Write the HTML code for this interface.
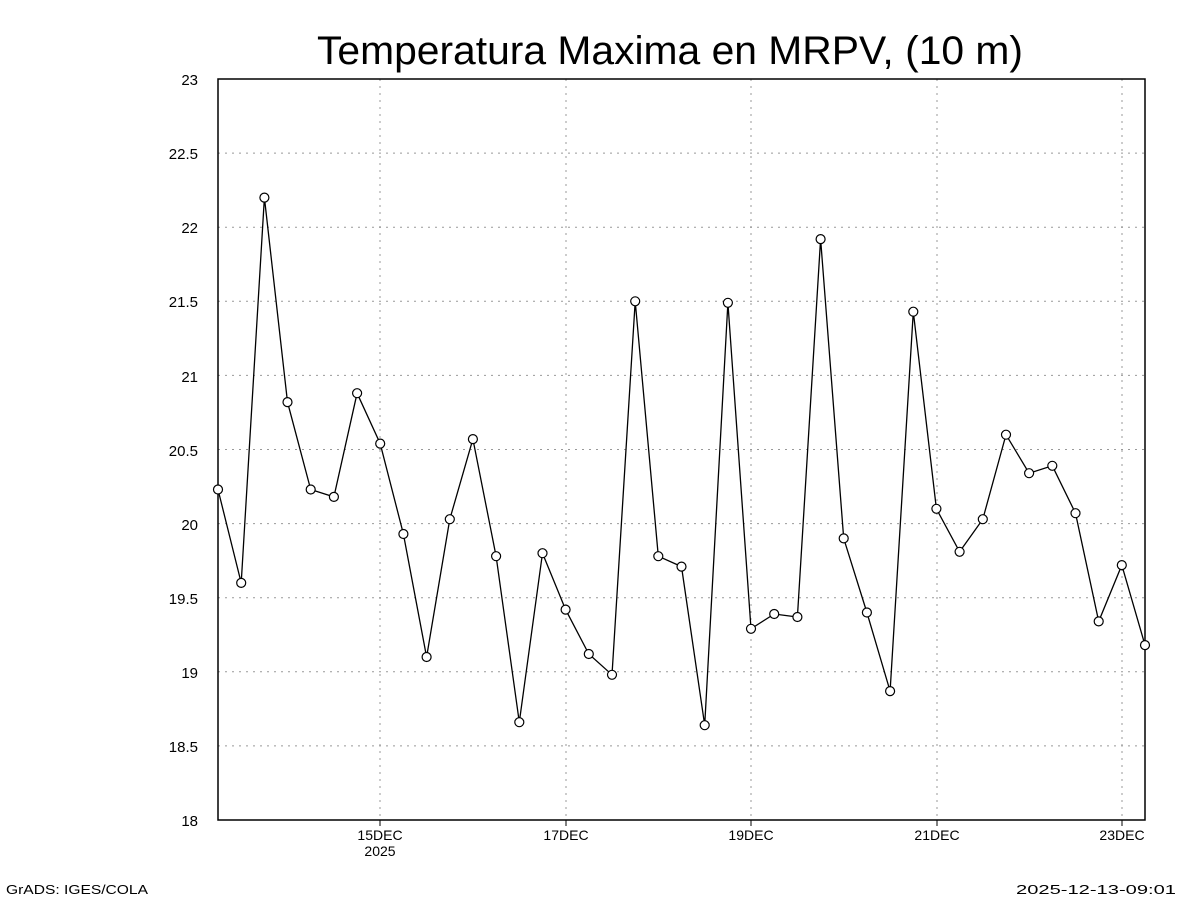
<!DOCTYPE html>
<html><head><meta charset="utf-8"><style>
html,body{margin:0;padding:0;background:#fff;}
svg{display:block;}
text{font-family:"Liberation Sans",sans-serif;fill:#000;}
</style></head><body>
<svg id="s" width="1200" height="900" xmlns="http://www.w3.org/2000/svg">
<rect width="1200" height="900" fill="#fff"/>
<text x="670" y="64" font-size="40" text-anchor="middle" textLength="706" lengthAdjust="spacingAndGlyphs" font-weight="300">Temperatura Maxima en MRPV,  (10 m)</text>
<g id="grid" stroke="#999" stroke-width="1" stroke-dasharray="2,5"></g>
<rect x="218" y="79" width="927" height="741" fill="none" stroke="#000" stroke-width="1.5"/>
<g font-size="15" text-anchor="end">
<text x="198" y="85">23</text><text x="198" y="159">22.5</text><text x="198" y="233">22</text>
<text x="198" y="307">21.5</text><text x="198" y="382">21</text><text x="198" y="456">20.5</text>
<text x="198" y="530">20</text><text x="198" y="604">19.5</text><text x="198" y="678">19</text>
<text x="198" y="752">18.5</text><text x="198" y="826">18</text>
</g>
<g font-size="14" text-anchor="middle">
<text x="380" y="840">15DEC</text><text x="380" y="856">2025</text>
<text x="566" y="840">17DEC</text><text x="751" y="840">19DEC</text>
<text x="937" y="840">21DEC</text><text x="1122" y="840">23DEC</text>
</g>
<text x="6" y="894" font-size="13" textLength="142" lengthAdjust="spacingAndGlyphs">GrADS: IGES/COLA</text>
<text x="1016" y="894" font-size="13" textLength="160" lengthAdjust="spacingAndGlyphs">2025-12-13-09:01</text>
<g id="data"></g>
</svg>
<script>
var ns="http://www.w3.org/2000/svg";
var g=document.getElementById("grid");
function el(p,n,a){var e=document.createElementNS(ns,n);for(var k in a)e.setAttribute(k,a[k]);p.appendChild(e);return e;}
for(var i=1;i<10;i++){var y=79+i*74.1;el(g,"line",{x1:218,x2:1145,y1:y,y2:y});}
[380,566,751,937,1122].forEach(function(x){el(g,"line",{x1:x,x2:x,y1:79,y2:820});
 el(document.getElementById("s"),"line",{x1:x,x2:x,y1:820,y2:826,stroke:"#000"});});
var v=[20.23,19.6,22.2,20.82,20.23,20.18,20.88,20.54,19.93,19.1,20.03,20.57,19.78,18.66,19.8,19.42,19.12,18.98,21.5,19.78,19.71,18.64,21.49,19.29,19.39,19.37,21.92,19.9,19.4,18.87,21.43,20.1,19.81,20.03,20.6,20.34,20.39,20.07,19.34,19.72,19.18];
var d=document.getElementById("data"),pts=[];
v.forEach(function(t,i){pts.push((218+i*23.175).toFixed(1)+","+(79+(23-t)*148.2).toFixed(1));});
el(d,"polyline",{points:pts.join(" "),fill:"none",stroke:"#000","stroke-width":1.3});
pts.forEach(function(p){var a=p.split(",");el(d,"circle",{cx:a[0],cy:a[1],r:4.5,fill:"#fff",stroke:"#000","stroke-width":1.2});});
</script>
</body></html>
